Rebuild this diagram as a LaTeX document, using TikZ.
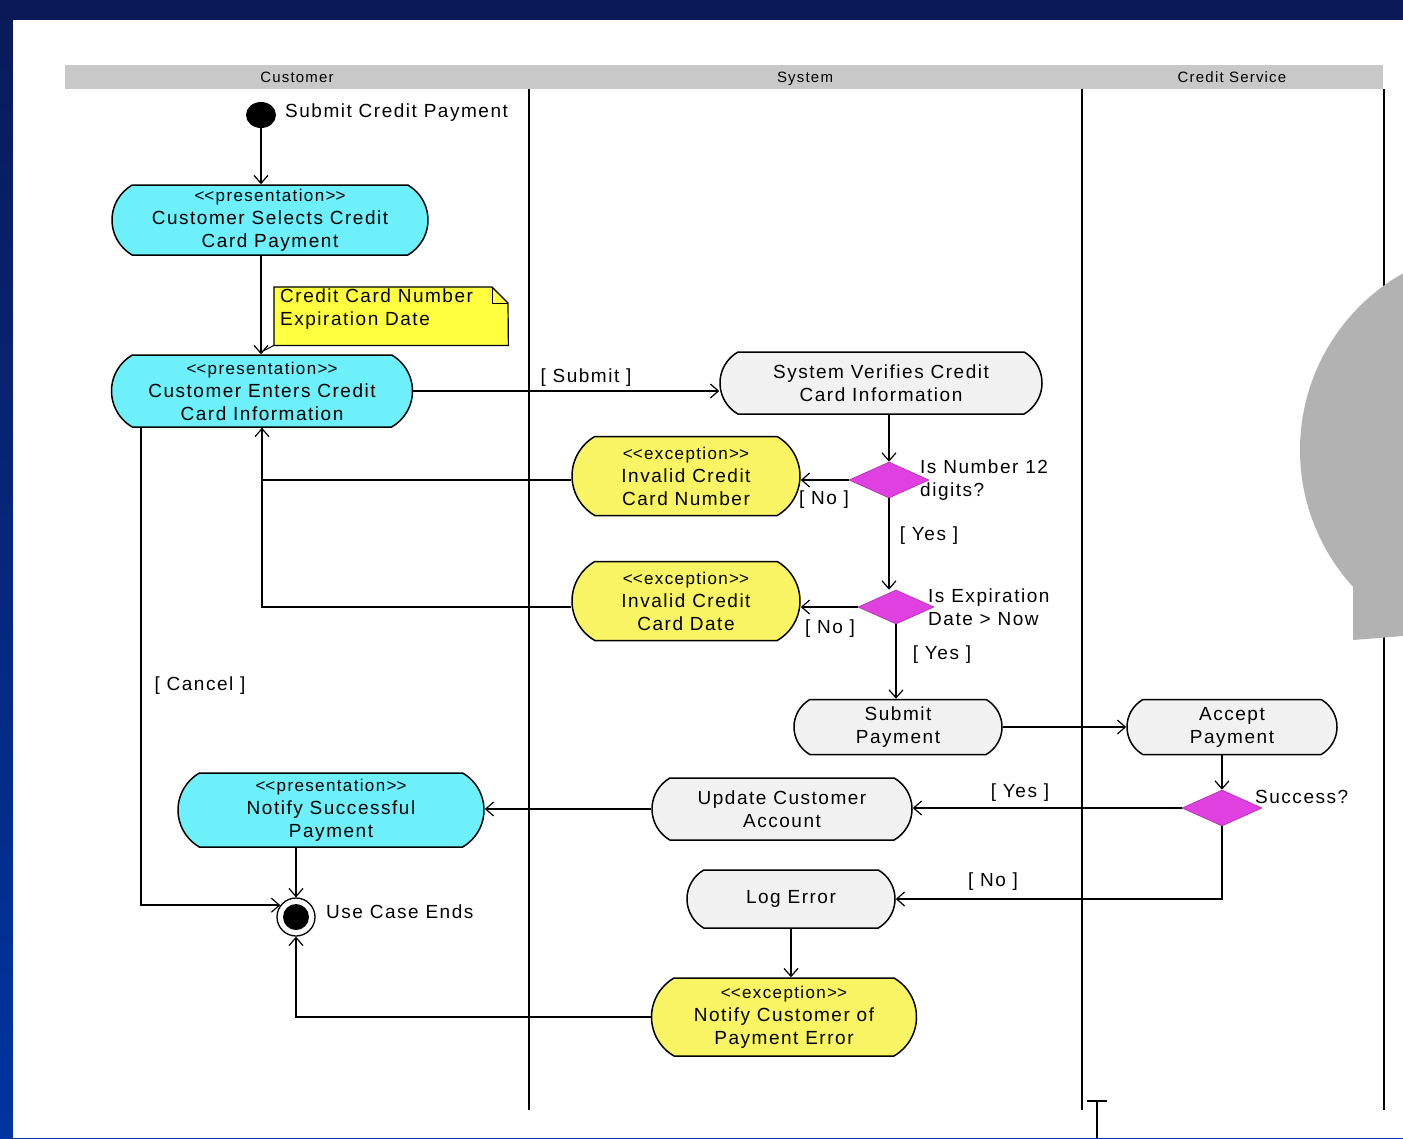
\documentclass[tikz,border=0pt]{standalone}
\usepackage{fontspec}
\setmainfont{Liberation Sans}[LetterSpace=8]
\usetikzlibrary{shapes.misc,shapes.geometric,arrows.meta,calc}

\definecolor{navy}{RGB}{10,26,88}
\definecolor{slideblue}{RGB}{0,52,160}
\definecolor{lanegrey}{RGB}{200,200,200}
\definecolor{presfill}{RGB}{110,240,250}
\definecolor{excfill}{RGB}{248,244,100}
\definecolor{notefill}{RGB}{255,255,64}
\definecolor{actfill}{RGB}{241,241,241}
\definecolor{decfill}{RGB}{224,64,224}
\definecolor{bubblegrey}{RGB}{178,178,178}

\newcommand\lblfont{\fontsize{19}{23}\selectfont}
\newcommand\stfont{\fontsize{17}{23}\selectfont}
\newcommand\lanefont{\fontsize{15}{18}\selectfont}
\newcommand\umlst[1]{{\stfont<\kern0pt<#1>\kern0pt>}}

\tikzset{
  activity/.style={shape=rounded rectangle, rounded rectangle arc length=120,
    draw=black, line width=1.5pt, align=center, inner sep=0pt, font=\lblfont},
  pres/.style={activity, fill=presfill},
  exc/.style={activity, fill=excfill},
  sys/.style={activity, fill=actfill},
  decision/.style={diamond, fill=decfill, draw=decfill!75!black, line width=0.6pt,
    inner sep=0pt, minimum width=80pt, minimum height=36pt},
  flow/.style={line width=1.6pt, draw=black,
    -{Straight Barb[length=8pt,width=14pt,line width=1.2pt]}},
  link/.style={line width=1.6pt, draw=black},
  guard/.style={font=\lblfont, inner sep=0pt},
  lbl/.style={font=\lblfont, inner sep=0pt, align=left},
  lanelbl/.style={font=\lanefont, inner sep=0pt, anchor=base},
  lane/.style={line width=1.6pt, draw=black},
}

\begin{document}
\begin{tikzpicture}[x=1pt,y=-1pt]
\useasboundingbox (0,0) rectangle (1403,1138);

% slide frame
\shade[top color=navy, bottom color=slideblue] (0,0) rectangle (1403,1138);
\fill[white] (13,20) rectangle (1403,1138);

% swimlanes
\node[fill=lanegrey, minimum width=1318pt, minimum height=24pt, inner sep=0pt,
      anchor=north west] (lanes) at (65,65) {};
\node[lanelbl] (lanecust) at (297,82) {Customer};
\node[lanelbl] (lanesys) at (805,82) {System};
\node[lanelbl] (lanecredit) at (1232,82) {Credit Service};
\draw[lane] (529,89) -- (529,1110);
\draw[lane] (1082,89) -- (1082,1110);
\draw[lane] (1384,89) -- (1384,1110);

% initial and final states
\node[ellipse, fill=black, minimum width=30pt, minimum height=26pt, inner sep=0pt]
  (start) at (261,115) {};
\node[lbl, anchor=west] (startlbl) at (285,113) {Submit Credit Payment};
\node[circle, draw=black, line width=1.3pt, fill=white, minimum size=38pt, inner sep=0pt]
  (end) at (296,917) {};
\node[circle, fill=black, minimum size=26pt, inner sep=0pt] (endcore) at (end) {};
\node[lbl, anchor=west] (endlbl) at (326,912) {Use Case Ends};

% customer lane
\node[pres, minimum width=316pt, minimum height=70pt] (sel) at (270,220)
  {\umlst{presentation}\\Customer Selects Credit\\Card Payment};
\node[pres, minimum width=301pt, minimum height=72pt] (enter) at (262,391)
  {\umlst{presentation}\\Customer Enters Credit\\Card Information};
\node[pres, minimum width=306pt, minimum height=74pt] (notify) at (331,810)
  {\umlst{presentation}\\Notify Successful\\Payment};

% note
\node[minimum width=234pt, minimum height=58pt, inner sep=0pt, anchor=north west]
  (note) at (274,287) {};
\fill[notefill] (note.north west) -- (492,287) -- (508,303) -- (note.south east)
  -- (note.south west) -- cycle;
\draw[line width=1.2pt] (note.north west) -- (492,287) -- (508,303) -- (note.south east)
  -- (note.south west) -- cycle;
\draw[line width=1pt] (492,287) -- (492,303) -- (508,303);
\node[lbl, anchor=north west] (notetext) at (280,289)
  {Credit Card Number\\Expiration Date};
\coordinate (notepin) at (263,351);
\draw[line width=1pt] (note.south west) -- (notepin);

% system lane
\node[sys, minimum width=322pt, minimum height=62pt] (verify) at (881,383)
  {System Verifies Credit\\Card Information};
\node[decision] (d1) at (889,480) {};
\node[lbl, anchor=west] (d1lbl) at (920,480) {Is Number 12\\digits?};
\node[exc, minimum width=228pt, minimum height=79pt] (inum) at (686,476)
  {\umlst{exception}\\Invalid Credit\\Card Number};
\node[decision, minimum width=76pt, minimum height=34pt] (d2) at (896,607) {};
\node[lbl, anchor=west] (d2lbl) at (928,607) {Is Expiration\\Date > Now};
\node[exc, minimum width=228pt, minimum height=79pt] (idate) at (686,601)
  {\umlst{exception}\\Invalid Credit\\Card Date};
\node[sys, minimum width=208pt, minimum height=55pt] (subpay) at (898,727)
  {Submit\\Payment};
\node[sys, minimum width=260pt, minimum height=62pt] (update) at (782,809)
  {Update Customer\\Account};
\node[sys, minimum width=208pt, minimum height=58pt] (logerr) at (791,899)
  {Log Error};
\node[exc, minimum width=265pt, minimum height=78pt] (notifyerr) at (784,1017)
  {\umlst{exception}\\Notify Customer of\\Payment Error};

% credit service lane
\node[sys, minimum width=210pt, minimum height=55pt] (accept) at (1232,727)
  {Accept\\Payment};
\node[decision] (d3) at (1222,808) {};
\node[lbl, anchor=west] (d3lbl) at (1255,797) {Success?};

% control flow
\draw[flow] (start.south) -- (start.south |- sel.north);
\draw[flow] (start.south |- sel.south) -- (start.south |- enter.north);
\draw[flow] (enter.east) -- (enter.east -| verify.west);
\draw[flow] (d1.north |- verify.south) -- (d1.north);
\draw[flow] (d1.west) -- (d1.west -| inum.east);
\draw[flow] (d1.south) -- (d1.south |- d2.north);
\draw[flow] (inum.west |- d1.west) -| (enter.south);
\draw[link] (idate.west |- d2.west) -| (enter.south);
\draw[flow] (d2.west) -- (d2.west -| idate.east);
\draw[flow] (d2.south) -- (d2.south |- subpay.north);
\draw[flow] (subpay.east) -- (subpay.east -| accept.west);
\draw[flow] (d3.north |- accept.south) -- (d3.north);
\draw[flow] (d3.west) -- (d3.west -| update.east);
\draw[flow] (update.west) -- (update.west -| notify.east);
\draw[flow] (d3.south) |- (logerr.east);
\draw[flow] (logerr.south) -- (logerr.south |- notifyerr.north);
\draw[flow] (notifyerr.west) -| (end.south);
\draw[flow] (end.north |- notify.south) -- (end.north);
\coordinate (cancelx) at (141,0);
\draw[flow] (enter.south -| cancelx) |- (end.143);

% guards
\node[guard] (gsubmit) at (586,378) {[ Submit ]};
\node[guard] (gno1) at (824,500) {[ No ]};
\node[guard] (gyes1) at (929,536) {[ Yes ]};
\node[guard] (gno2) at (830,629) {[ No ]};
\node[guard] (gyes2) at (942,655) {[ Yes ]};
\node[guard] (gyes3) at (1020,793) {[ Yes ]};
\node[guard] (gno3) at (993,882) {[ No ]};
\node[guard] (gcancel) at (200,686) {[ Cancel ]};

% text cursor at the foot of the lanes
\draw[line width=1.6pt] (1097,1101) -- (1097,1138);
\draw[line width=1.6pt] (1087,1101) -- (1107,1101);

% grey callout bubble on the right edge
\begin{scope}
  \clip (0,0) rectangle (1403,1138);
  \fill[bubblegrey] (1503,450) circle[radius=203pt];
  \fill[bubblegrey] (1353,560) -- (1403,560) -- (1403,636) -- (1353,640) -- cycle;
\end{scope}
\end{tikzpicture}
\end{document}
